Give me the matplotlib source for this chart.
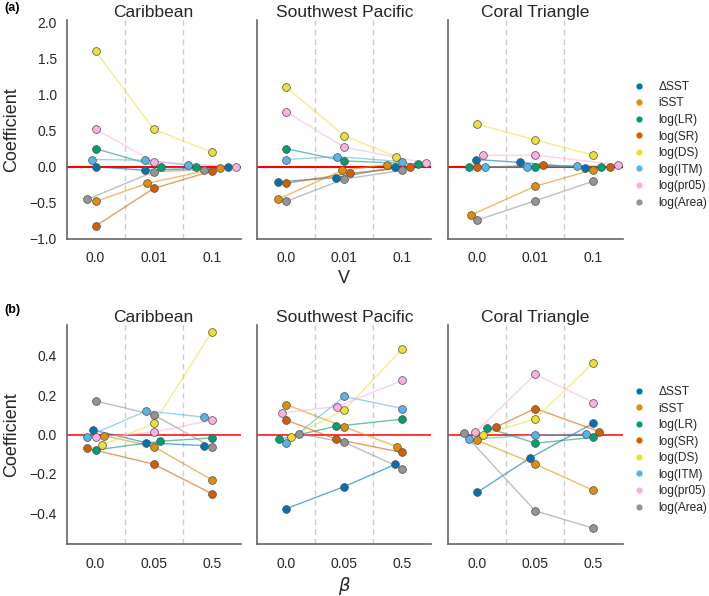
import numpy as np
import matplotlib
matplotlib.use("Agg")
import matplotlib.pyplot as plt
from matplotlib.lines import Line2D

plt.rcParams['font.family'] = ['Liberation Sans', 'DejaVu Sans']

# variables (hue) and colours
variables = ['ΔSST', 'iSST', 'log(LR)', 'log(SR)', 'log(DS)', 'log(ITM)', 'log(pr05)', 'log(Area)']
colors = ['#0173B2', '#DE8F05', '#029E73', '#D55E00', '#ECE133', '#56B4E9', '#FBAFE4', '#949494']
regions = ['Caribbean', 'Southwest Pacific', 'Coral Triangle']

v_ticks = ['0.0', '0.01', '0.1']
beta_ticks = ['0.0', '0.05', '0.5']

# coefficients, one row per variable, one column per V value
v_caribbean = [[0.0, -0.05, -0.01], [-0.48, -0.23, -0.014], [0.25, -0.01, -0.01],
               [-0.82, -0.30, -0.06], [1.60, 0.52, 0.20], [0.10, 0.09, 0.023],
               [0.52, 0.07, 0.0], [-0.45, -0.07, -0.04]]
v_swpacific = [[-0.21, -0.15, -0.01], [-0.45, -0.05, 0.03], [0.25, 0.08, 0.04],
               [-0.23, -0.09, -0.01], [1.10, 0.43, 0.14], [0.10, 0.14, 0.07],
               [0.76, 0.27, 0.05], [-0.48, -0.17, -0.05]]
v_coral = [[0.10, 0.06, -0.02], [-0.67, -0.27, -0.04], [0.0, -0.01, 0.0],
           [-0.01, 0.02, 0.0], [0.59, 0.37, 0.16], [0.0, 0.0, 0.01],
           [0.16, 0.16, 0.03], [-0.74, -0.47, -0.20]]

# coefficients, one row per variable, one column per beta value
b_caribbean = [[0.024, -0.042, -0.056], [-0.005, -0.061, -0.23], [-0.078, -0.034, -0.017],
               [-0.07, -0.15, -0.30], [-0.054, 0.056, 0.52], [-0.01, 0.12, 0.088],
               [-0.014, 0.012, 0.073], [0.17, 0.10, -0.064]]
b_swpacific = [[-0.376, -0.264, -0.151], [0.152, 0.039, -0.061], [-0.024, 0.042, 0.078],
               [0.074, -0.024, -0.091], [-0.012, 0.124, 0.435], [-0.044, 0.193, 0.132],
               [0.11, 0.142, 0.274], [0.003, -0.039, -0.173]]
b_coral = [[-0.293, -0.12, 0.058], [-0.029, -0.15, -0.283], [0.034, -0.044, -0.014],
           [0.037, 0.132, 0.015], [-0.002, 0.080, 0.364], [-0.025, -0.002, 0.002],
           [0.012, 0.305, 0.162], [0.007, -0.387, -0.475]]


def swarm(ypx, d):
    # simple beeswarm: place points from bottom up, closest free spot to the centre
    order = np.argsort(ypx, kind='stable')
    placed = []
    off = np.zeros(len(ypx))
    for i in order:
        y = ypx[i]
        cands = [0.0]
        for xo, yo in placed:
            dy = y - yo
            if abs(dy) < d:
                dx = np.sqrt(d**2 - dy**2) * 1.05
                cands += [xo - dx, xo + dx]
        cands.sort(key=abs)
        for c in cands:
            if all((c - xo)**2 + (y - yo)**2 >= (0.999*d)**2 for xo, yo in placed):
                break
        placed.append((c, y))
        off[i] = c
    return off


fig = plt.figure(figsize=(7.09, 5.96), dpi=100)

lefts = [0.0938, 0.3625, 0.6319]
width = 0.2461
height = 0.3674
rows = [
    (0.599, [v_caribbean, v_swpacific, v_coral], v_ticks, (-1.0, 2.03),
     [-1.0, -0.5, 0.0, 0.5, 1.0, 1.5, 2.0], 'V', 1.5, '(a)', 0.986),
    (0.0872, [b_caribbean, b_swpacific, b_coral], beta_ticks, (-0.555, 0.555),
     [-0.4, -0.2, 0.0, 0.2, 0.4], r'$\beta$', 1.1, '(b)', 0.48),
]

diam = 8.0  # marker diameter in pixels

for bottom, panels, ticks, ylim, yticks, xlab, red_lw, tag, tag_y in rows:
    axes = []
    for j, (data, region) in enumerate(zip(panels, regions)):
        ax = fig.add_axes([lefts[j], bottom, width, height])
        axes.append(ax)
        ax.set_xlim(-0.5, 2.5)
        ax.set_ylim(*ylim)
        for s in ['top', 'right']:
            ax.spines[s].set_visible(False)
        for s in ['left', 'bottom']:
            ax.spines[s].set_color('0.4')
            ax.spines[s].set_linewidth(1.2)
        ax.tick_params(length=0, labelsize=10, colors='0.15')
        ax.tick_params(axis='x', pad=9)
        ax.tick_params(axis='y', pad=7)
        ax.set_xticks(range(len(ticks)))
        ax.set_xticklabels(ticks)
        ax.set_yticks(yticks)
        if j > 0:
            ax.set_yticklabels([])
        ax.set_title(region, fontsize=12.5, pad=2.5, color='0.15')

        for xv in [0.5, 1.5]:
            ax.axvline(xv, color='0.8', lw=1, ls=(0, (4, 3)), zorder=0)
        ax.axhline(0, color='red', lw=red_lw, zorder=1)

        vals = np.array(data)
        pxx = ax.transData.transform([(0, 0), (1, 0)])
        px_per_x = pxx[1, 0] - pxx[0, 0]
        xs = np.zeros_like(vals)
        for k in range(vals.shape[1]):
            ypx = ax.transData.transform(np.column_stack([np.full(len(vals), k), vals[:, k]]))[:, 1]
            xs[:, k] = k + swarm(ypx, diam) / px_per_x

        for i in range(len(variables)):
            ax.plot(xs[i], vals[i], color=colors[i], lw=1, alpha=0.6, zorder=2)
        for i in range(len(variables)):
            ax.plot(xs[i], vals[i], 'o', ls='none', ms=5.6, mfc=colors[i],
                    mec='0.3', mew=0.5, zorder=3)

    axes[0].set_ylabel('Coefficient', fontsize=13, color='0.15')
    axes[0].yaxis.set_label_coords(-0.266, 0.5)
    axes[1].set_xlabel(xlab, fontsize=13, labelpad=3, color='0.15')

    handles = [Line2D([], [], marker='o', ls='none', ms=4.5, mfc=c, mec=c, mew=0)
               for c in colors]
    axes[2].legend(handles, variables, loc='center left', bbox_to_anchor=(0.998, 0.43),
                   frameon=False, fontsize=8.6, handlelength=1.0, handletextpad=1.15,
                   labelspacing=0.38, labelcolor='0.15')

    fig.text(0.006, tag_y, tag, fontsize=9, fontweight='bold',
             va='center', ha='left')

fig.savefig('out.png', dpi=100)
